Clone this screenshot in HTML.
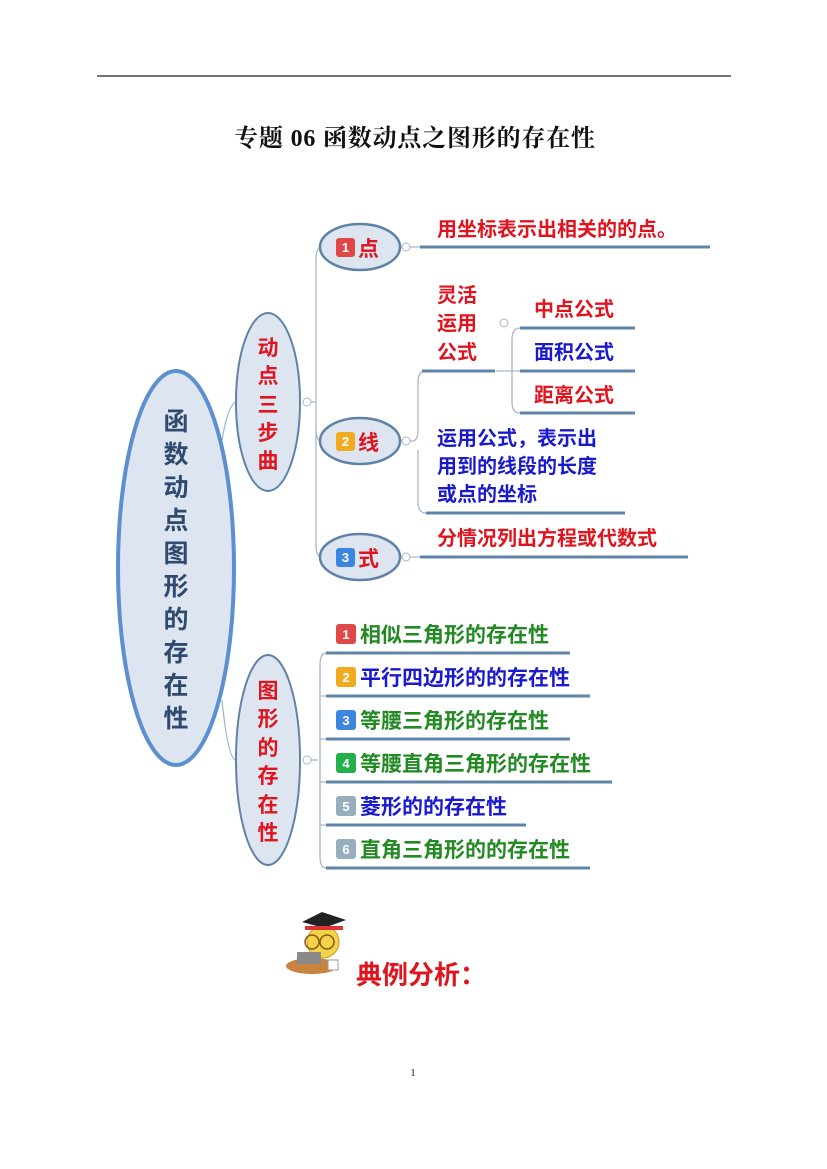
<!DOCTYPE html>
<html><head><meta charset="utf-8"><style>
html,body{margin:0;padding:0;background:#fff;}
svg{display:block;}
.t{font-family:"Liberation Sans","Noto Sans CJK SC",sans-serif;font-weight:bold;}
</style></head><body>
<svg width="827" height="1169" viewBox="0 0 827 1169" xmlns="http://www.w3.org/2000/svg">
<line x1="97" y1="76" x2="731" y2="76" stroke="#222" stroke-width="1.2"/>
<text x="415" y="146" text-anchor="middle" font-family="'Liberation Serif','Noto Serif CJK SC',serif" font-weight="bold" font-size="24" letter-spacing="0.8" fill="#111">专题 06  函数动点之图形的存在性</text>

<!-- connectors -->
<g fill="none" stroke="#a9b6c4" stroke-width="1.3">
<path d="M222 440 Q228 405 236 402"/>
<path d="M222 700 Q228 760 236 760"/>
<path d="M307 402 L316 402 M316 260 Q316 247 322 247 M316 260 L316 545 Q316 557 322 557 M316 430 Q316 441 322 441"/>
<path d="M400 247 L420 247 M400 441 L412 441 M400 557 L420 557"/>
<path d="M412 441 Q418 441 418 430 L418 382 Q418 371 426 371 M418 450 L418 502 Q418 513 426 513"/>
<path d="M496 371 L520 371 M512 371 L512 340 Q512 328 520 328 M512 371 L512 402 Q512 413 520 413"/>
<path d="M307 760 L318 760 M320 760 L320 665 Q320 653 326 653 M320 760 L320 856 Q320 868 326 868 M320 696 L326 696 M320 739 L326 739 M320 782 L326 782 M320 825 L326 825"/>
</g>
<g fill="#fff" stroke="#a9b6c4" stroke-width="1">
<circle cx="307" cy="402" r="4"/><circle cx="406" cy="247" r="4"/><circle cx="406" cy="441" r="4"/><circle cx="406" cy="557" r="4"/><circle cx="504" cy="323" r="4"/><circle cx="307" cy="760" r="4"/>
</g>
<!-- underlines -->
<g stroke="#5e84a8" stroke-width="3" fill="none">
<line x1="420" y1="247" x2="710" y2="247"/>
<line x1="422" y1="371" x2="495" y2="371"/>
<line x1="520" y1="328" x2="635" y2="328"/>
<line x1="520" y1="371" x2="635" y2="371"/>
<line x1="520" y1="413" x2="635" y2="413"/>
<line x1="426" y1="513" x2="625" y2="513"/>
<line x1="420" y1="557" x2="688" y2="557"/>
<line x1="326" y1="653" x2="570" y2="653"/>
<line x1="326" y1="696" x2="590" y2="696"/>
<line x1="326" y1="739" x2="570" y2="739"/>
<line x1="326" y1="782" x2="612" y2="782"/>
<line x1="326" y1="825" x2="526" y2="825"/>
<line x1="326" y1="868" x2="590" y2="868"/>
</g>

<!-- ellipses -->
<ellipse cx="176" cy="568" rx="58" ry="197" fill="#dde6f0" stroke="#5b8fd0" stroke-width="4"/>
<ellipse cx="268" cy="402" rx="32" ry="89" fill="#dde6f0" stroke="#5f82a6" stroke-width="2"/>
<ellipse cx="268" cy="760" rx="32" ry="105" fill="#dde6f0" stroke="#5f82a6" stroke-width="2"/>
<ellipse cx="360" cy="247" rx="40" ry="23" fill="#dde6f0" stroke="#5f82a6" stroke-width="2.5"/>
<ellipse cx="360" cy="441" rx="40" ry="23" fill="#dde6f0" stroke="#5f82a6" stroke-width="2.5"/>
<ellipse cx="360" cy="557" rx="40" ry="23" fill="#dde6f0" stroke="#5f82a6" stroke-width="2.5"/>

<g class="t" font-size="25" fill="#2f4a6e" text-anchor="middle">
<text x="176" y="430">函</text><text x="176" y="463">数</text><text x="176" y="496">动</text><text x="176" y="529">点</text><text x="176" y="562">图</text><text x="176" y="595">形</text><text x="176" y="628">的</text><text x="176" y="661">存</text><text x="176" y="694">在</text><text x="176" y="727">性</text>
</g>
<g class="t" font-size="21" fill="#e0141e" text-anchor="middle">
<text x="268" y="355">动</text><text x="268" y="383">点</text><text x="268" y="412">三</text><text x="268" y="440">步</text><text x="268" y="468">曲</text>
<text x="268" y="698">图</text><text x="268" y="726">形</text><text x="268" y="755">的</text><text x="268" y="783">存</text><text x="268" y="812">在</text><text x="268" y="840">性</text>
</g>
<!-- badges for 点线式 -->
<rect x="336" y="238" width="19" height="19" rx="3" fill="#e04848"/>
<rect x="336" y="432" width="19" height="19" rx="3" fill="#f2aa1e"/>
<rect x="336" y="548" width="19" height="19" rx="3" fill="#3d86e0"/>
<g class="t" font-size="13" fill="#fff" text-anchor="middle"><text x="345.5" y="252">1</text><text x="345.5" y="446">2</text><text x="345.5" y="562">3</text></g>
<g class="t" font-size="21" fill="#e0141e"><text x="358" y="256">点</text><text x="358" y="450">线</text><text x="358" y="566">式</text></g>

<g class="t" font-size="20">
<text x="437" y="236" fill="#e0141e">用坐标表示出相关的的点。</text>
<text x="437" y="302" fill="#e0141e">灵活</text>
<text x="437" y="330" fill="#e0141e">运用</text>
<text x="437" y="359" fill="#e0141e">公式</text>
<text x="534" y="316" fill="#e0141e">中点公式</text>
<text x="534" y="359" fill="#1a1acc">面积公式</text>
<text x="534" y="402" fill="#e0141e">距离公式</text>
<text x="437" y="445" fill="#1a1acc">运用公式，表示出</text>
<text x="437" y="473" fill="#1a1acc">用到的线段的长度</text>
<text x="437" y="501" fill="#1a1acc">或点的坐标</text>
<text x="437" y="545" fill="#e0141e">分情况列出方程或代数式</text>
</g>

<!-- list badges -->
<rect x="336" y="624" width="20" height="20" rx="3" fill="#e04848"/>
<rect x="336" y="667" width="20" height="20" rx="3" fill="#f2aa1e"/>
<rect x="336" y="710" width="20" height="20" rx="3" fill="#3d86e0"/>
<rect x="336" y="753" width="20" height="20" rx="3" fill="#22b04a"/>
<rect x="336" y="796" width="20" height="20" rx="3" fill="#97aebc"/>
<rect x="336" y="839" width="20" height="20" rx="3" fill="#97aebc"/>
<g class="t" font-size="13" fill="#fff" text-anchor="middle">
<text x="346" y="639">1</text><text x="346" y="682">2</text><text x="346" y="725">3</text><text x="346" y="768">4</text><text x="346" y="811">5</text><text x="346" y="854">6</text>
</g>
<g class="t" font-size="21">
<text x="360" y="642" fill="#238a23">相似三角形的存在性</text>
<text x="360" y="685" fill="#1a1acc">平行四边形的的存在性</text>
<text x="360" y="728" fill="#238a23">等腰三角形的存在性</text>
<text x="360" y="771" fill="#238a23">等腰直角三角形的存在性</text>
<text x="360" y="814" fill="#1a1acc">菱形的的存在性</text>
<text x="360" y="857" fill="#238a23">直角三角形的的存在性</text>
</g>

<!-- mascot -->
<ellipse cx="312" cy="966" rx="26" ry="8" fill="#c9833f"/>
<circle cx="323" cy="942" r="16" fill="#f3d34a" stroke="#c9962a"/>
<polygon points="302,922 322,912 346,920 324,928" fill="#222"/>
<rect x="305" y="926" width="38" height="4" fill="#d33"/>
<circle cx="312" cy="942" r="7" fill="none" stroke="#8a5a1a" stroke-width="1.5"/>
<circle cx="327" cy="942" r="7" fill="none" stroke="#8a5a1a" stroke-width="1.5"/>
<rect x="297" y="952" width="24" height="12" fill="#8a8a8a"/>
<rect x="328" y="960" width="10" height="10" fill="#fff" stroke="#999"/>
<text x="356" y="984" class="t" font-size="26" fill="#e0141e">典例分析：</text>

<text x="413" y="1076" text-anchor="middle" font-family="'Liberation Serif',serif" font-size="11" fill="#222">1</text>
</svg>
</body></html>
